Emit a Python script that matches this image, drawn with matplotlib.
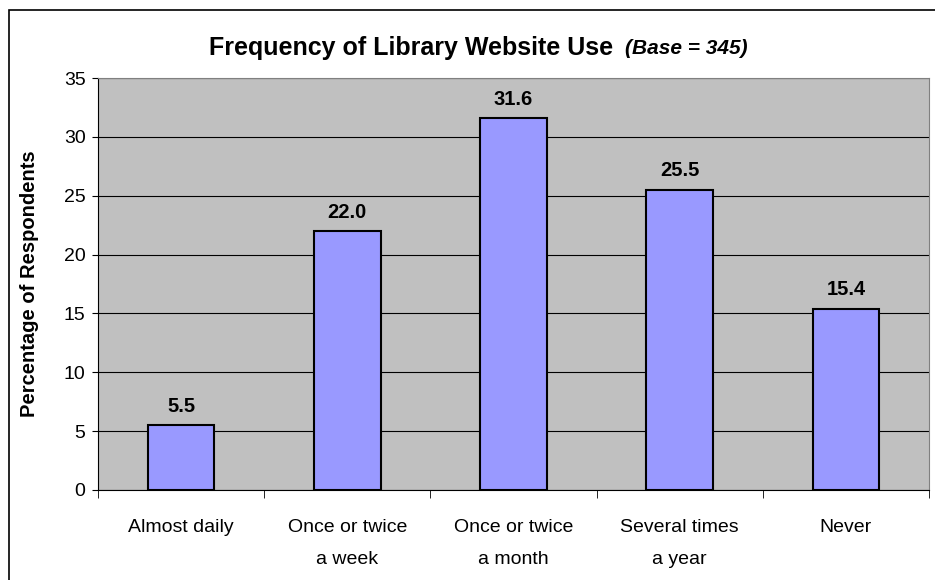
import matplotlib
matplotlib.use("Agg")
from matplotlib import pyplot as plt
from matplotlib.patches import Rectangle
import numpy as np

categories = ["Almost daily", "Once or twice\na week", "Once or twice\na month",
              "Several times\na year", "Never"]
values = [5.5, 22.0, 31.6, 25.5, 15.4]
yticks = [0, 5, 10, 15, 20, 25, 30, 35]

def main():
    plt.rcParams['font.family'] = ['Liberation Sans', 'DejaVu Sans']

    fig = plt.figure(figsize=(9.35, 5.8), dpi=100)
    ax = fig.add_axes([98 / 935, 1 - 490 / 580, (929 - 98) / 935, (490 - 78) / 580])

    x = np.arange(len(categories))
    ax.set_facecolor('#C0C0C0')
    ax.set_axisbelow(True)
    ax.grid(axis='y', color='black', linewidth=0.8)
    ax.bar(x, values, width=0.4, color='#9999FF', edgecolor='black', linewidth=1.5, zorder=3)

    for xi, v in zip(x, values):
        ax.text(xi, v + 0.8, f"{v:.1f}", ha='center', va='bottom',
                fontsize=14.5, fontweight='bold')

    ax.set_xlim(-0.5, len(categories) - 0.5)
    ax.set_ylim(0, 35)
    ax.set_yticks(yticks)
    ax.tick_params(axis='y', labelsize=14, length=4, direction='out', pad=5)
    ax.set_xticks(x)
    ax.set_xticklabels(categories, fontsize=14, linespacing=2.15)
    ax.tick_params(axis='x', length=0, pad=21)
    ax.set_xticks(np.arange(len(categories) + 1) - 0.5, minor=True)
    ax.tick_params(axis='x', which='minor', length=6, direction='out')

    for s in ['top', 'right']:
        ax.spines[s].set_color('#808080')
    ax.spines['left'].set_color('black')
    ax.spines['bottom'].set_color('black')

    ax.set_ylabel("Percentage of Respondents", fontsize=14.5, fontweight='bold', labelpad=18)

    fig.text(613 / 935, 1 - 48 / 580, "Frequency of Library Website Use",
             ha='right', va='center', fontsize=18, fontweight='bold')
    fig.text(625 / 935, 1 - 48 / 580, "(Base = 345)",
             ha='left', va='center', fontsize=15, fontweight='bold', fontstyle='italic')

    fig.patches.append(Rectangle((9 / 935, -0.05), 1.0, 1 - 10 / 580 + 0.05,
                                 transform=fig.transFigure, fill=False,
                                 edgecolor='black', linewidth=1.2))

    fig.savefig("out.png", dpi=100)

if __name__ == "__main__":
    main()
